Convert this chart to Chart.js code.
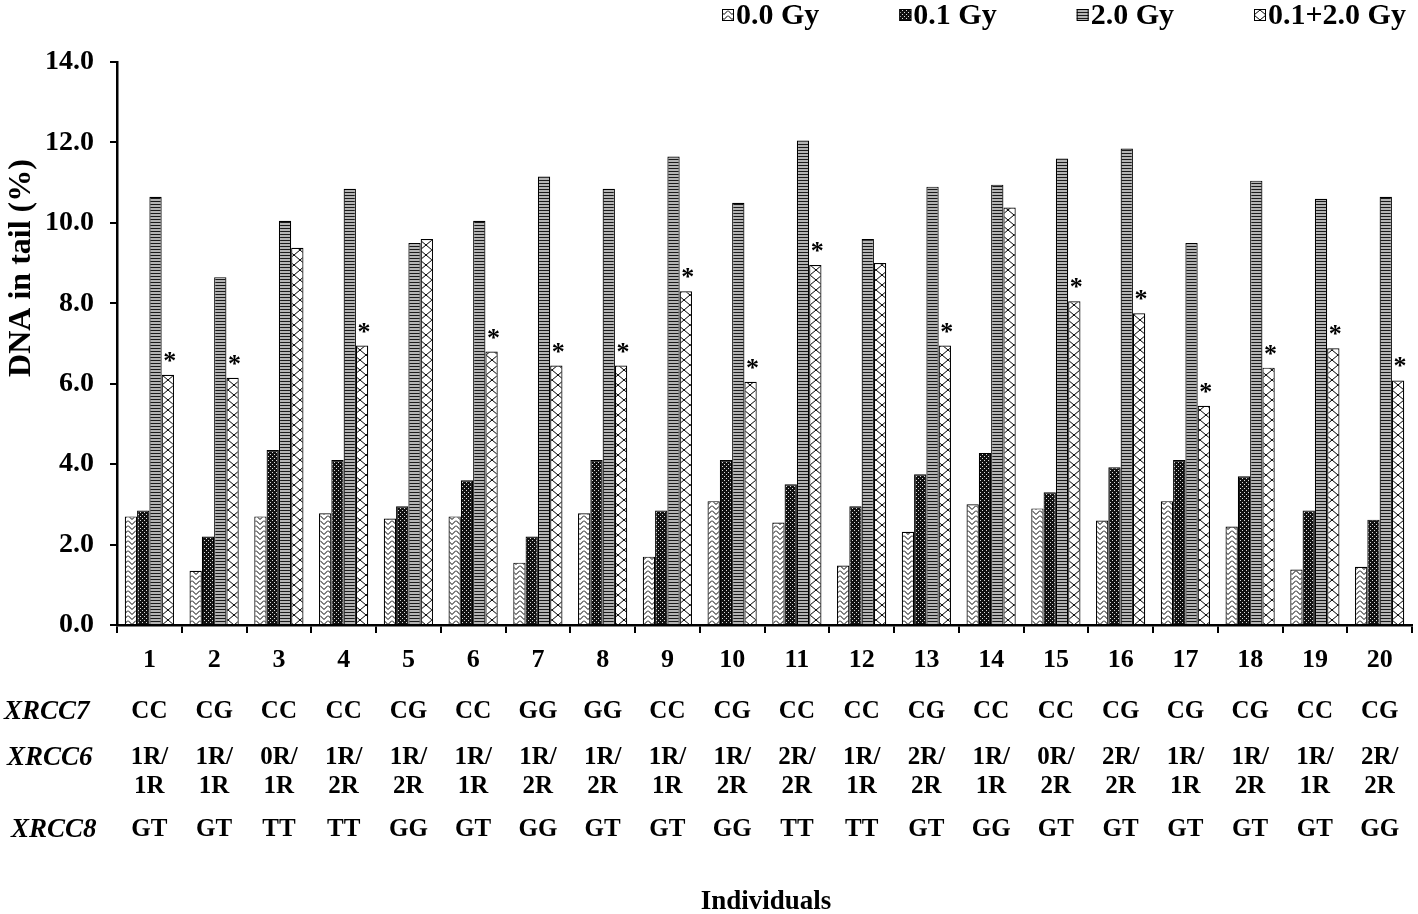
<!DOCTYPE html>
<html>
<head>
<meta charset="utf-8">
<script src="https://cdn.jsdelivr.net/npm/chart.js@4.4.0/dist/chart.umd.min.js"></script>
<style>
  html, body { margin:0; padding:0; background:#fff; }
  #wrap { width:1418px; height:914px; }
</style>
</head>
<body>
<div id="wrap"><canvas id="chart" width="1418" height="914"></canvas></div>
<script>
// individuals on the x axis
var individuals = ['1','2','3','4','5','6','7','8','9','10','11','12','13','14','15','16','17','18','19','20'];

// DNA in tail (%) per dose
var dose00   = [2.70, 1.35, 2.70, 2.78, 2.65, 2.70, 1.55, 2.78, 1.70, 3.08, 2.55, 1.48, 2.32, 3.00, 2.90, 2.60, 3.08, 2.45, 1.38, 1.45];
var dose01   = [2.85, 2.20, 4.35, 4.10, 2.95, 3.60, 2.20, 4.10, 2.85, 4.10, 3.50, 2.95, 3.75, 4.28, 3.30, 3.92, 4.10, 3.70, 2.85, 2.62];
var dose20   = [10.65, 8.65, 10.05, 10.85, 9.50, 10.05, 11.15, 10.85, 11.65, 10.50, 12.05, 9.60, 10.90, 10.95, 11.60, 11.85, 9.50, 11.05, 10.60, 10.65];
var dose0120 = [6.22, 6.15, 9.38, 6.95, 9.60, 6.80, 6.45, 6.45, 8.30, 6.05, 8.95, 9.00, 6.95, 10.38, 8.05, 7.75, 5.45, 6.40, 6.88, 6.08];

// asterisk over the 0.1+2.0 Gy bar
var significant = [1,1,0,1,0,1,1,1,1,1,1,0,1,0,1,1,1,1,1,1];

var seriesNames = ['0.0 Gy', '0.1 Gy', '2.0 Gy', '0.1+2.0 Gy'];

// genotypes under each individual
var xrcc7  = ['CC','CG','CC','CC','CG','CC','GG','GG','CC','CG','CC','CC','CG','CC','CC','CG','CG','CG','CC','CG'];
var xrcc6a = ['1R/','1R/','0R/','1R/','1R/','1R/','1R/','1R/','1R/','1R/','2R/','1R/','2R/','1R/','0R/','2R/','1R/','1R/','1R/','2R/'];
var xrcc6b = ['1R','1R','1R','2R','2R','1R','2R','2R','1R','2R','2R','1R','2R','1R','2R','2R','1R','2R','1R','2R'];
var xrcc8  = ['GT','GT','TT','TT','GG','GT','GG','GT','GT','GG','TT','TT','GT','GG','GT','GT','GT','GT','GT','GG'];

var FONT = "'Liberation Serif', 'Times New Roman', serif";

function makePattern(w, h, draw) {
  var c = document.createElement('canvas');
  c.width = w; c.height = h;
  var g = c.getContext('2d');
  draw(g, w, h);
  return g.createPattern(c, 'repeat');
}

// white with zigzag chevrons
var zigzag = makePattern(8, 5, function (g, w, h) {
  g.fillStyle = '#fff'; g.fillRect(0, 0, w, h);
  g.strokeStyle = '#000'; g.lineWidth = 1;
  g.beginPath(); g.moveTo(0, 0.5); g.lineTo(4, 4.5); g.lineTo(8, 0.5); g.stroke();
});
// black with white dots
var dots = makePattern(4, 4, function (g, w, h) {
  g.fillStyle = '#111'; g.fillRect(0, 0, w, h);
  g.fillStyle = '#ddd'; g.fillRect(0, 0, 1, 1); g.fillRect(2, 2, 1, 1);
});
// gray horizontal stripes
var stripes = makePattern(4, 3, function (g, w, h) {
  g.fillStyle = '#b4b4b4'; g.fillRect(0, 0, w, h);
  g.fillStyle = '#1a1a1a'; g.fillRect(0, 0, w, 1);
});
// diagonal crosshatch
var hatch = makePattern(12, 10, function (g, w, h) {
  g.fillStyle = '#fff'; g.fillRect(0, 0, w, h);
  g.strokeStyle = '#000'; g.lineWidth = 1;
  g.beginPath(); g.moveTo(0, 0); g.lineTo(w, h); g.moveTo(w, 0); g.lineTo(0, h); g.stroke();
});
var fills = [zigzag, dots, stripes, hatch];

var asterisks = {
  id: 'asterisks',
  afterDatasetsDraw: function (chart) {
    var ctx = chart.ctx;
    var meta = chart.getDatasetMeta(3);
    ctx.save();
    ctx.fillStyle = '#000';
    ctx.font = 'bold 26px ' + FONT;
    ctx.textAlign = 'center';
    ctx.textBaseline = 'alphabetic';
    meta.data.forEach(function (bar, i) {
      if (significant[i]) ctx.fillText('*', bar.x + 2, bar.y - 6);
    });
    ctx.restore();
  }
};

// genotype table, axis titles
var extraText = {
  id: 'extraText',
  afterDraw: function (chart) {
    var ctx = chart.ctx;
    var xs = chart.scales.x;
    ctx.save();
    ctx.fillStyle = '#000';
    ctx.textBaseline = 'middle';
    ctx.font = 'italic bold 27px ' + FONT;
    ctx.textAlign = 'left';
    ctx.fillText('XRCC7', 4, 712);
    ctx.fillText('XRCC6', 7, 758);
    ctx.fillText('XRCC8', 11, 830);
    ctx.font = 'bold 25px ' + FONT;
    ctx.textAlign = 'center';
    for (var i = 0; i < individuals.length; i++) {
      var x = xs.getPixelForValue(i);
      ctx.fillText(xrcc7[i], x, 712);
      ctx.fillText(xrcc6a[i], x, 758);
      ctx.fillText(xrcc6b[i], x, 787);
      ctx.fillText(xrcc8[i], x, 830);
    }
    ctx.font = 'bold 27px ' + FONT;
    ctx.fillText('Individuals', 766, 902);
    ctx.translate(22, 268);
    ctx.rotate(-Math.PI / 2);
    ctx.font = 'bold 32px ' + FONT;
    ctx.fillText('DNA in tail (%)', 0, 0);
    ctx.restore();
  }
};

var topLegend = {
  id: 'topLegend',
  afterDraw: function (chart) {
    var ctx = chart.ctx;
    ctx.save();
    ctx.font = 'bold 30px ' + FONT;
    ctx.textBaseline = 'middle';
    ctx.textAlign = 'left';
    var x = 722, y = 15;
    for (var i = 0; i < seriesNames.length; i++) {
      ctx.fillStyle = fills[i];
      ctx.fillRect(x, y - 6, 12, 12);
      ctx.strokeStyle = '#000'; ctx.lineWidth = 1;
      ctx.strokeRect(x + 0.5, y - 5.5, 11, 11);
      ctx.fillStyle = '#000';
      ctx.fillText(seriesNames[i], x + 14, y + 1);
      x += 14 + ctx.measureText(seriesNames[i]).width + 80;
    }
    ctx.restore();
  }
};

var datasets = [dose00, dose01, dose20, dose0120].map(function (d, i) {
  return {
    label: seriesNames[i],
    data: d,
    backgroundColor: fills[i],
    borderColor: '#000',
    borderWidth: 1.2,
    categoryPercentage: 0.76,
    barPercentage: 1.0
  };
});

new Chart(document.getElementById('chart'), {
  type: 'bar',
  data: { labels: individuals, datasets: datasets },
  plugins: [asterisks, extraText, topLegend],
  options: {
    responsive: false,
    animation: false,
    devicePixelRatio: 1,
    layout: { padding: { top: 62, right: 6, left: 0, bottom: 0 } },
    plugins: { legend: { display: false }, tooltip: { enabled: false } },
    scales: {
      x: {
        offset: true,
        grid: { offset: true, drawOnChartArea: false, tickLength: 8, color: '#000', lineWidth: 2 },
        border: { color: '#000', width: 2.5 },
        ticks: { color: '#000', font: { family: FONT, size: 26, weight: 'bold' }, padding: 12, maxRotation: 0 },
        afterFit: function (scale) { scale.height = 289; }
      },
      y: {
        min: 0, max: 14,
        ticks: { stepSize: 2, color: '#000', padding: 16, font: { family: FONT, size: 28, weight: 'bold' },
          callback: function (v) { return v.toFixed(1); } },
        grid: { drawOnChartArea: false, tickLength: 7, color: '#000', lineWidth: 2 },
        border: { color: '#000', width: 2.5 },
        afterFit: function (scale) { scale.width = 117; }
      }
    }
  }
});
</script>
</body>
</html>
